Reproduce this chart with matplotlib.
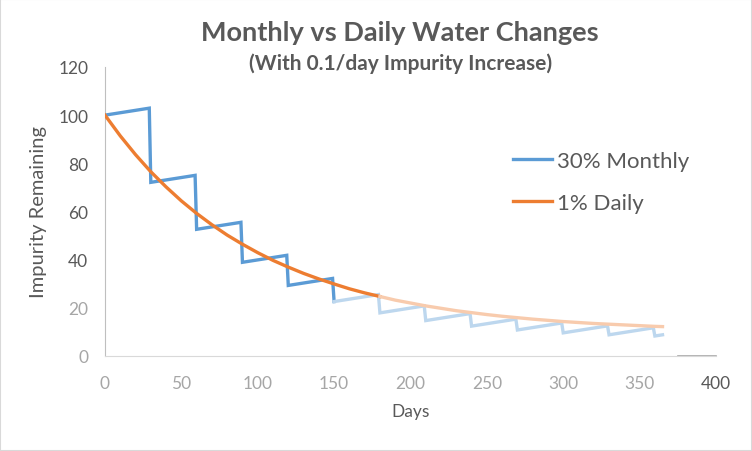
import matplotlib
matplotlib.use("Agg")
import matplotlib.pyplot as plt
from matplotlib.patches import Rectangle
from matplotlib.lines import Line2D

plt.rcParams['font.family'] = ['Lato', 'DejaVu Sans']

# ---- data ----
daily_days = [0, 10, 20, 30, 40, 50, 60, 70, 80, 90, 100, 110, 120, 130, 140, 150,
              160, 170, 180, 190, 200, 210, 220, 230, 240, 250, 260, 270, 280, 290,
              300, 310, 320, 330, 340, 350, 360, 365]
daily_vals = [100, 91.4, 83.6, 76.5, 70.2, 64.4, 59.2, 54.5, 50.2, 46.4, 42.9, 39.7,
              36.9, 34.3, 32.0, 29.9, 27.9, 26.2, 24.7, 23.2, 22.0, 20.8, 19.8, 18.8,
              18.0, 17.2, 16.5, 15.9, 15.3, 14.8, 14.3, 13.9, 13.5, 13.2, 12.9, 12.6,
              12.3, 12.2]

monthly_days = [0, 29, 30, 59, 60, 89, 90, 119, 120, 149, 150, 179, 180, 209, 210,
                239, 240, 269, 270, 299, 300, 329, 330, 359, 360, 365]
monthly_vals = [100, 102.9, 72.1, 75.0, 52.6, 55.5, 38.9, 41.8, 29.3, 32.2, 22.6, 25.5,
                17.9, 20.8, 14.7, 17.6, 12.4, 15.3, 10.8, 13.7, 9.6, 12.5, 8.8, 11.7,
                8.3, 8.8]

series_names = ["30% Monthly", "1% Daily"]
x_ticks = [0, 50, 100, 150, 200, 250, 300, 350, 400]
y_ticks = [0, 20, 40, 60, 80, 100, 120]

title = "Monthly vs Daily Water Changes"
subtitle = "(With 0.1/day Impurity Increase)"
x_label = "Days"
y_label = "Impurity Remaining"

# ---- styling ----
BLUE = "#5B9BD5"
BLUE_L = "#BDD7EE"
ORANGE = "#ED7D31"
ORANGE_L = "#F8CBAD"
TXT = "#595959"
TXT_L = "#A6A6A6"

fig = plt.figure(figsize=(7.52, 4.52), dpi=100)
fig.patches.append(Rectangle((0, 0), 1, 1, transform=fig.transFigure, fill=False,
                             edgecolor="#D9D9D9", linewidth=1.5))
ax = fig.add_axes([0.1396, 0.2102, 0.8125, 0.6394])

lw = 2.4
# monthly: dark through the day-150 change, light afterwards
split_m = monthly_days.index(150)
ax.plot(monthly_days[:split_m + 1], monthly_vals[:split_m + 1], color=BLUE, lw=lw,
        solid_joinstyle="miter", zorder=2)
ax.plot(monthly_days[split_m:], monthly_vals[split_m:], color=BLUE_L, lw=lw,
        solid_joinstyle="miter", zorder=2)
# daily: dark until day 180, light afterwards
split_d = daily_days.index(180)
ax.plot(daily_days[:split_d + 1], daily_vals[:split_d + 1], color=ORANGE, lw=lw, zorder=3)
ax.plot(daily_days[split_d:], daily_vals[split_d:], color=ORANGE_L, lw=lw, zorder=3)

ax.set_xlim(0, 400)
ax.set_ylim(0, 120)
ax.set_xticks(x_ticks)
ax.set_yticks(y_ticks)
ax.tick_params(length=0, labelsize=12.5, colors=TXT)
ax.tick_params(axis="x", pad=14)
ax.tick_params(axis="y", pad=12)
for lab, v in zip(ax.get_xticklabels(), x_ticks):
    lab.set_color(TXT if v == 400 else TXT_L)
for lab, v in zip(ax.get_yticklabels(), y_ticks):
    lab.set_color(TXT_L if v <= 20 else TXT)

for s in ("top", "right"):
    ax.spines[s].set_visible(False)
ax.spines["left"].set_color("#BFBFBF")
ax.spines["bottom"].set_color("#D9D9D9")
ax.axhline(0, xmin=0.938, xmax=1.0, color="#A6A6A6", lw=1.2, clip_on=False)

ax.set_xlabel(x_label, fontsize=12.5, color=TXT, labelpad=8)
ax.set_ylabel(y_label, fontsize=14.5, color=TXT, labelpad=8)

fig.text(0.532, 0.927, title, ha="center", va="center", fontsize=19.5, fontweight="bold",
         color=TXT)
fig.text(0.532, 0.858, subtitle, ha="center", va="center", fontsize=15,
         fontweight="bold", color=TXT)

handles = [Line2D([], [], color=BLUE, lw=lw), Line2D([], [], color=ORANGE, lw=lw)]
leg = ax.legend(handles, series_names, loc="upper left", bbox_to_anchor=(0.635, 0.78),
                frameon=False, fontsize=16, handlelength=1.75, handletextpad=0.25,
                labelspacing=1.0, labelcolor=TXT)

fig.savefig("out.png", dpi=100)
